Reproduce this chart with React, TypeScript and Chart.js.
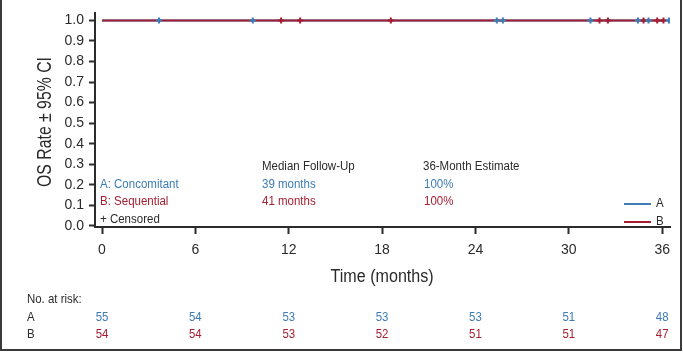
import React, { useEffect, useRef } from "react";
import { Chart, registerables } from "chart.js";

Chart.register(...registerables);

const BLUE = "#3b7bb6";
const RED = "#a51d31";
const DARK = "#2b2b2b";

const xTicks = [0, 6, 12, 18, 24, 30, 36];
const yTicks = [0, 0.1, 0.2, 0.3, 0.4, 0.5, 0.6, 0.7, 0.8, 0.9, 1.0];

const curveATimes = [0, 36.43];
const curveAValues = [1, 1];
const curveBTimes = [0, 36.08];
const curveBValues = [1, 1];

const censorATimes = [3.66, 9.69, 25.37, 25.76, 31.39, 34.44, 35.12, 36.43];
const censorBTimes = [11.51, 12.73, 18.56, 31.97, 32.51, 34.8, 35.68, 36.08];

const riskA = [55, 54, 53, 53, 53, 51, 48];
const riskB = [54, 54, 53, 52, 51, 51, 47];

const groupLabels = ["A: Concomitant", "B: Sequential"];
const medianFollowUp = ["39 months", "41 months"];
const estimate36 = ["100%", "100%"];

const SANS = "'Liberation Sans', Arial, sans-serif";

function drawText(
  ctx: CanvasRenderingContext2D,
  text: string,
  x: number,
  y: number,
  size: number,
  color: string,
  align: CanvasTextAlign,
  sx: number,
  rotate = 0
) {
  ctx.save();
  ctx.translate(x, y);
  if (rotate) ctx.rotate(rotate);
  ctx.scale(sx, 1);
  ctx.font = `${size}px ${SANS}`;
  ctx.fillStyle = color;
  ctx.textAlign = align;
  ctx.textBaseline = "middle";
  ctx.fillText(text, 0, 0);
  ctx.restore();
}

const overlayPlugin = {
  id: "overlay",
  afterDraw(chart: any) {
    const ctx = chart.ctx as CanvasRenderingContext2D;
    const xs = chart.scales.x;
    ctx.save();

    // Axis titles (condensed look)
    drawText(ctx, "OS Rate ± 95% CI", 45, 122, 20, DARK, "center", 0.79, -Math.PI / 2);
    drawText(ctx, "Time (months)", xs.getPixelForValue(18), 277, 17.5, DARK, "center", 0.92);

    // In-plot annotation table
    const fs = 12.5;
    const sc = 0.92;
    drawText(ctx, "Median Follow-Up", 262, 166.5, fs, DARK, "left", sc);
    drawText(ctx, "36-Month Estimate", 423, 166.5, fs, DARK, "left", sc);
    const colors = [BLUE, RED];
    const rowsY = [184.5, 202];
    for (let i = 0; i < 2; i++) {
      drawText(ctx, groupLabels[i], 100, rowsY[i], fs, colors[i], "left", sc);
      drawText(ctx, medianFollowUp[i], 262, rowsY[i], fs, colors[i], "left", sc);
      drawText(ctx, estimate36[i], 424, rowsY[i], fs, colors[i], "left", sc);
    }
    drawText(ctx, "+ Censored", 100, 219.5, fs, DARK, "left", sc);

    // Legend
    const legY = [204, 222];
    const legNames = ["A", "B"];
    for (let i = 0; i < 2; i++) {
      ctx.strokeStyle = colors[i];
      ctx.lineWidth = 2;
      ctx.beginPath();
      ctx.moveTo(624, legY[i]);
      ctx.lineTo(651, legY[i]);
      ctx.stroke();
      drawText(ctx, legNames[i], 656, legY[i], fs, DARK, "left", sc);
    }

    // Number at risk
    const ts = 13;
    const tsc = 0.88;
    drawText(ctx, "No. at risk:", 27, 299.5, ts, DARK, "left", tsc);
    drawText(ctx, "A", 27, 317, ts, DARK, "left", tsc);
    drawText(ctx, "B", 27, 334, ts, DARK, "left", tsc);
    xTicks.forEach((t, i) => {
      const px = xs.getPixelForValue(t);
      drawText(ctx, String(riskA[i]), px, 317, ts, BLUE, "center", tsc);
      drawText(ctx, String(riskB[i]), px, 334, ts, RED, "center", tsc);
    });

    // Frame
    ctx.strokeStyle = "#3a3a3a";
    ctx.lineWidth = 2;
    ctx.beginPath();
    ctx.moveTo(1, 0);
    ctx.lineTo(1, 350);
    ctx.lineTo(681, 350);
    ctx.lineTo(681, 0);
    ctx.stroke();

    ctx.restore();
  },
};

export default function App() {
  const ref = useRef<HTMLCanvasElement | null>(null);

  useEffect(() => {
    if (!ref.current) return;
    const toPts = (xs: number[], ys: number[]) => xs.map((x, i) => ({ x, y: ys[i] }));
    const chart = new Chart(ref.current, {
      type: "scatter",
      data: {
        datasets: [
          {
            label: "censA",
            data: censorATimes.map((x) => ({ x, y: 1 })),
            pointStyle: "cross",
            pointRadius: 3,
            borderColor: BLUE,
            backgroundColor: BLUE,
            borderWidth: 2,
            showLine: false,
            order: 0,
          } as any,
          {
            label: "censB",
            data: censorBTimes.map((x) => ({ x, y: 1 })),
            pointStyle: "cross",
            pointRadius: 3,
            borderColor: RED,
            backgroundColor: RED,
            borderWidth: 2,
            showLine: false,
            order: 0,
          } as any,
          {
            label: "B",
            data: toPts(curveBTimes, curveBValues),
            showLine: true,
            stepped: "before",
            borderColor: RED,
            borderWidth: 2,
            pointRadius: 0,
            order: 1,
          } as any,
          {
            label: "A",
            data: toPts(curveATimes, curveAValues),
            showLine: true,
            stepped: "before",
            borderColor: BLUE,
            borderWidth: 2,
            pointRadius: 0,
            order: 2,
          } as any,
        ],
      },
      options: {
        animation: false,
        responsive: false,
        layout: { padding: { left: 0, right: 13, top: 13, bottom: 0 } },
        plugins: {
          legend: { display: false },
          tooltip: { enabled: false },
        },
        scales: {
          x: {
            type: "linear",
            min: -0.45,
            max: 36.5,
            afterBuildTicks: (s: any) => {
              s.ticks = xTicks.map((v) => ({ value: v }));
            },
            afterFit: (s: any) => {
              s.height = 125;
            },
            ticks: {
              color: DARK,
              font: { family: SANS, size: 14 },
              padding: 8,
              maxRotation: 0,
              callback: (v: any) => String(v),
            },
            grid: {
              drawOnChartArea: false,
              drawTicks: true,
              tickLength: 7,
              tickWidth: 2,
              tickColor: DARK,
            },
            border: { display: true, color: DARK, width: 2 },
          },
          y: {
            type: "linear",
            min: -0.005,
            max: 1.034,
            afterBuildTicks: (s: any) => {
              s.ticks = yTicks.map((v) => ({ value: v }));
            },
            afterFit: (s: any) => {
              s.width = 95;
            },
            ticks: {
              color: DARK,
              font: { family: SANS, size: 14 },
              padding: 5,
              callback: (v: any) => Number(v).toFixed(1),
            },
            grid: {
              drawOnChartArea: false,
              drawTicks: true,
              tickLength: 6,
              tickWidth: 2,
              tickColor: DARK,
            },
            border: { display: true, color: DARK, width: 2 },
          },
        },
      },
      plugins: [overlayPlugin],
    });
    return () => chart.destroy();
  }, []);

  return (
    <div style={{ position: "absolute", left: 0, top: 0, width: 683, height: 352, background: "#fff" }}>
      <canvas ref={ref} width={683} height={352} style={{ display: "block" }} />
    </div>
  );
}
